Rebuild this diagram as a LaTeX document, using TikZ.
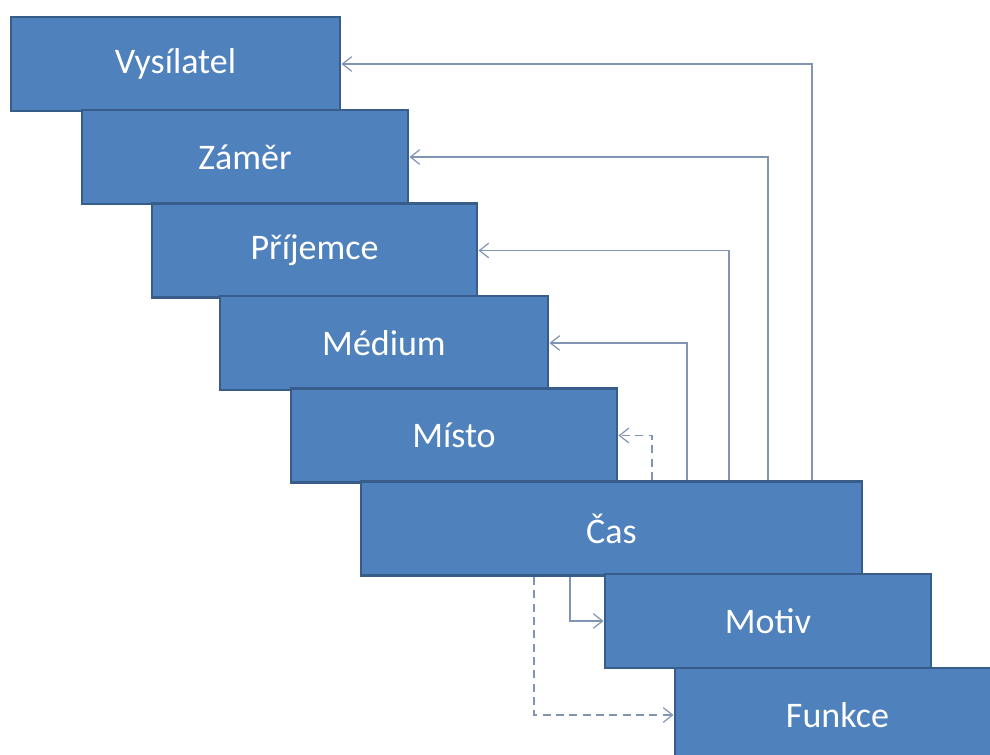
\documentclass[tikz,border=0pt]{standalone}
\usepackage{fontspec}
\setmainfont{Carlito}
\usetikzlibrary{arrows.meta}
\definecolor{boxfill}{HTML}{4F81BD}
\definecolor{boxline}{HTML}{385D8A}
\definecolor{connline}{HTML}{8194B2}
\tikzset{
  stair/.style={rectangle, fill=boxfill, draw=boxline, line width=2.2pt, text=white,
    font=\fontsize{27}{32}\selectfont, inner sep=0pt, minimum height=70.5pt},
  conn/.style={draw=connline, line width=0.9pt, -{Straight Barb[length=7pt,width=11pt,line width=0.9pt]}},
  dconn/.style={conn, dash pattern=on 6pt off 4pt}
}
\begin{document}
\begin{tikzpicture}[x=0.75pt,y=-0.75pt]
\useasboundingbox (0,0) rectangle (990,755);
\clip (0,0) rectangle (990,755);
\node[stair, minimum width=246.75pt] (v) at (175.5,64) {Vysílatel};
\node[stair, minimum width=244.5pt] (z) at (245,157) {Záměr};
\node[stair, minimum width=243.75pt] (p) at (314.5,250.5) {Příjemce};
\node[stair, minimum width=246pt] (md) at (384,343) {Médium};
\node[stair, minimum width=244.5pt] (ms) at (454,435.5) {Místo};
\node[stair, minimum width=375.75pt] (c) at (611.5,528.5) {Čas};
\node[stair, minimum width=244.5pt] (mo) at (768,621) {Motiv};
\node[stair, minimum width=243.75pt] (f) at (837.5,715) {Funkce};
\coordinate (x1) at (812,0);
\coordinate (x2) at (768,0);
\coordinate (x3) at (729,0);
\coordinate (x4) at (687,0);
\coordinate (x5) at (652,0);
\coordinate (x6) at (570,0);
\coordinate (x7) at (534,0);
\draw[conn] (c.north -| x1) |- (v.east);
\draw[conn] (c.north -| x2) |- (z.east);
\draw[conn] (c.north -| x3) |- (p.east);
\draw[conn] (c.north -| x4) |- (md.east);
\draw[dconn] (c.north -| x5) |- (ms.east);
\draw[conn] (c.south -| x6) |- (mo.west);
\draw[dconn] (c.south -| x7) |- (f.west);
\end{tikzpicture}
\end{document}
